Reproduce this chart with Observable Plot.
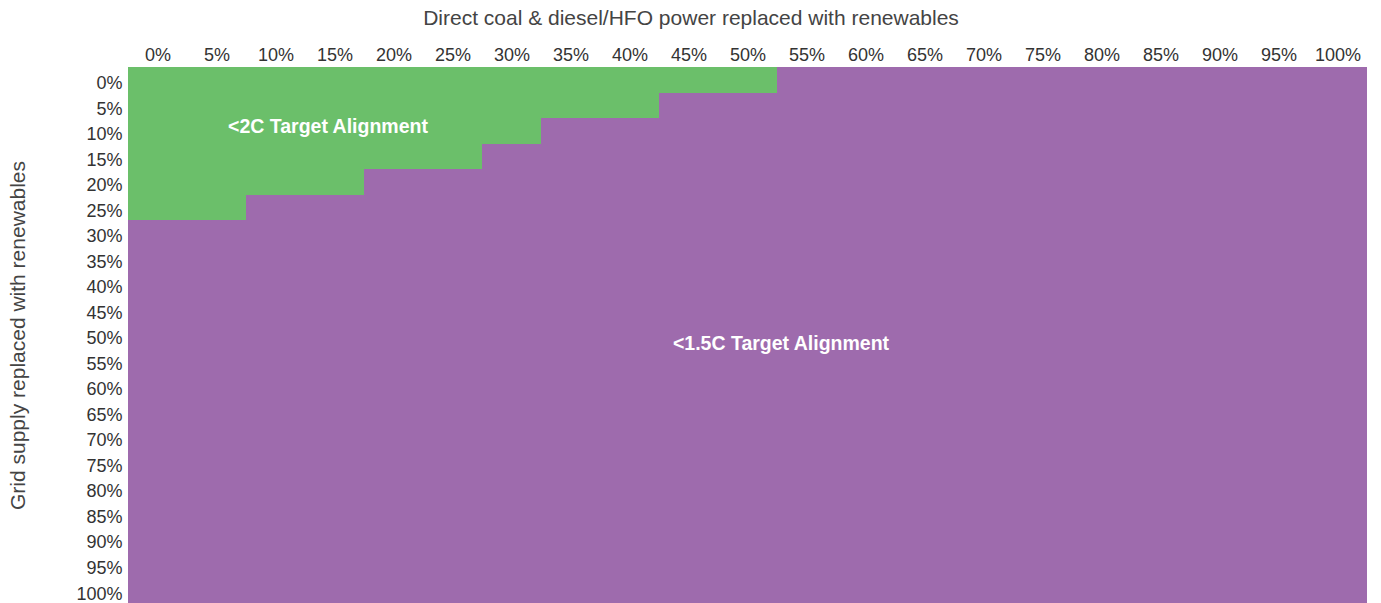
<!DOCTYPE html>
<html>
<head>
<meta charset="utf-8">
<script src="https://cdn.jsdelivr.net/npm/d3@7"></script>
<script src="https://cdn.jsdelivr.net/npm/@observablehq/plot@0.6"></script>
<style>
  html, body { margin: 0; padding: 0; background: #fff; }
</style>
</head>
<body>
<div id="chart"></div>
<script>
// Column categories: direct coal & diesel/HFO power replaced with renewables
const xLabels = ["0%","5%","10%","15%","20%","25%","30%","35%","40%","45%","50%","55%","60%","65%","70%","75%","80%","85%","90%","95%","100%"];
// Row categories: grid supply replaced with renewables
const yLabels = ["0%","5%","10%","15%","20%","25%","30%","35%","40%","45%","50%","55%","60%","65%","70%","75%","80%","85%","90%","95%","100%"];
// Number of columns (from 0%) that are only <2C aligned, per row
const greenCols = [11, 9, 7, 6, 4, 2, 0, 0, 0, 0, 0, 0, 0, 0, 0, 0, 0, 0, 0, 0, 0];
const categories = ["<2C Target Alignment", "<1.5C Target Alignment"];
const colors = ["#6BBF6A", "#9E6BAD"];
// Region labels placed on cells
const annotations = [
  {x: "15%", y: "10%", text: "<2C Target Alignment", dx: -7, dy: -5},
  {x: "50%", y: "50%", text: "<1.5C Target Alignment", dx: 33, dy: 8}
];
const xTitle = "Direct coal & diesel/HFO power replaced with renewables";
const yTitle = "Grid supply replaced with renewables";

const cells = [];
yLabels.forEach((yl, i) => {
  xLabels.forEach((xl, j) => {
    cells.push({x: xl, y: yl, cat: j < greenCols[i] ? categories[0] : categories[1]});
  });
});

const annotationMarks = annotations.map(a =>
  Plot.text([a], {x: "x", y: "y", text: "text", dx: a.dx, dy: a.dy, fill: "white", fontWeight: "bold", fontSize: 19.5})
);

const chart = Plot.plot({
  width: 1381,
  height: 603,
  marginLeft: 128,
  marginTop: 67,
  marginRight: 14,
  marginBottom: 0,
  style: {fontFamily: "Liberation Sans, Arial, sans-serif", fontSize: "18px", color: "#333", background: "#fff"},
  x: {domain: xLabels, padding: 0, round: false, axis: null},
  y: {domain: yLabels, padding: 0, round: false, axis: null},
  color: {domain: categories, range: colors},
  marks: [
    Plot.cell(cells, {x: "x", y: "y", fill: "cat", inset: 0, shapeRendering: "crispEdges"}),
    Plot.axisX({anchor: "top", tickSize: 0, tickPadding: 7, label: null, fontSize: 18, fill: "#333"}),
    Plot.axisY({anchor: "left", tickSize: 0, tickPadding: 6, label: null, fontSize: 18, fill: "#333", dy: 3}),
    ...annotationMarks,
    Plot.text([xTitle], {text: d => d, frameAnchor: "top", lineAnchor: "middle", dx: -57, dy: -49, fontSize: 21, fill: "#444"}),
    Plot.text([yTitle], {text: d => d, frameAnchor: "left", textAnchor: "middle", lineAnchor: "middle", rotate: -90, dx: -110, fontSize: 21, fill: "#444"})
  ]
});
document.getElementById("chart").appendChild(chart);
</script>
</body>
</html>
